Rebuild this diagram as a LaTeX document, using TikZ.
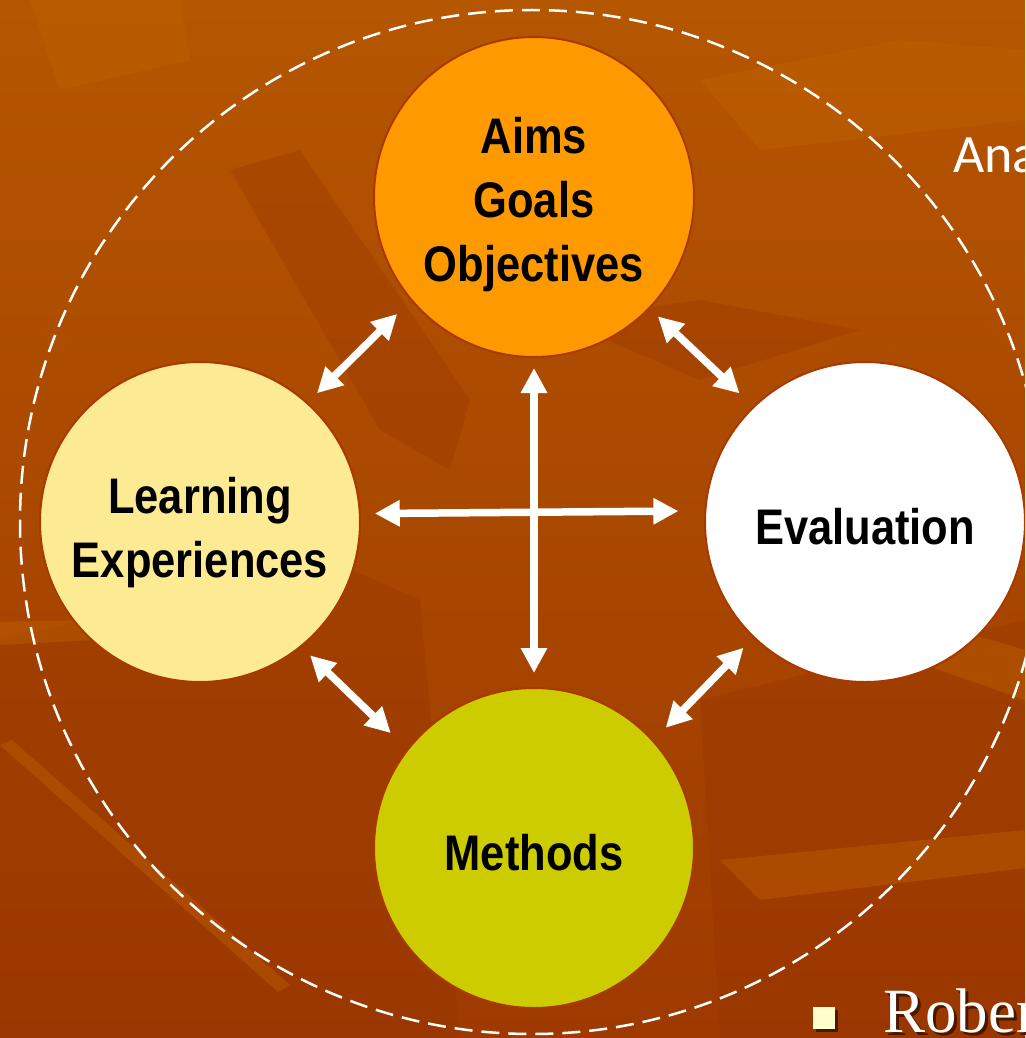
\documentclass[tikz,border=0pt]{standalone}
\usepackage{fontspec}
\usetikzlibrary{arrows.meta}
\newfontfamily\lblfont[FakeStretch=0.87]{Liberation Sans}
\newfontfamily\anafont{Carlito}
\newfontfamily\robfont{Liberation Serif}
\definecolor{bgtop}{HTML}{B55600}
\definecolor{bgbot}{HTML}{9E3A00}
\definecolor{dk}{HTML}{943200}
\definecolor{lt}{HTML}{C06400}
\definecolor{aimsc}{HTML}{FF9900}
\definecolor{learnc}{HTML}{FDEB94}
\definecolor{methc}{HTML}{CCCC00}
\definecolor{rimc}{HTML}{A83A00}
\definecolor{bulletc}{HTML}{FFFFCC}
\definecolor{shadowc}{HTML}{4A1800}
\begin{document}
\begin{tikzpicture}[x=1pt,y=-1pt,
  ball/.style={circle,draw=rimc,line width=2pt,minimum size=320pt,inner sep=0pt,outer sep=0pt},
  lbl/.style={font=\lblfont\bfseries\fontsize{50}{64}\selectfont,align=center,inner sep=0pt,text=black},
  warrow/.style={draw=white,line width=7.5pt,{Triangle[length=25pt,width=25pt]}-{Triangle[length=25pt,width=25pt]}},
  darkpatch/.style={fill=dk,opacity=0.3,draw=none},
  lightpatch/.style={fill=lt,opacity=0.4,draw=none}]
\path[use as bounding box] (0,0) rectangle (1025,1038);
\clip (0,0) rectangle (1025,1038);
% background
\shade[top color=bgtop,bottom color=bgbot] (0,0) rectangle (1025,1038);
\fill[darkpatch] (230,170) -- (300,150) -- (470,400) -- (450,470) -- (380,430) -- cycle;
\fill[darkpatch] (0,640) -- (330,560) -- (420,600) -- (460,1038) -- (0,1038) -- cycle;
\fill[darkpatch] (560,320) -- (700,300) -- (860,330) -- (700,380) -- cycle;
\fill[darkpatch] (700,700) -- (1025,620) -- (1025,1038) -- (720,1038) -- cycle;
\fill[lightpatch] (0,622) -- (90,620) -- (95,640) -- (0,645) -- cycle;
\fill[lightpatch] (0,745) -- (12,740) -- (290,985) -- (278,992) -- cycle;
\fill[lightpatch] (720,860) -- (1025,830) -- (1025,868) -- (760,900) -- cycle;
\fill[lightpatch] (700,80) -- (900,40) -- (1025,50) -- (1025,120) -- (760,150) -- cycle;
\fill[lightpatch] (30,0) -- (180,0) -- (190,60) -- (60,90) -- cycle;
\fill[lightpatch] (720,560) -- (1025,650) -- (1025,700) -- (740,600) -- cycle;
% dashed ring
\draw[white,line width=2.5pt,dash pattern=on 18pt off 9pt] (532,522) circle[radius=512];
% circles
\node[ball,fill=aimsc] (aims) at (534,197) {};
\node[ball,fill=learnc] (learn) at (200,522) {};
\node[ball,fill=white] (eval) at (865,522) {};
\node[ball,fill=methc] (meth) at (534,848) {};
% labels
\node[lbl,anchor=north] (aimsT) at (534,117) {Aims\\Goals\\Objectives};
\node[lbl,anchor=north] (learnT) at (200,477) {Learning\\Experiences};
\node[lbl,anchor=base] (evalT) at (865,544) {Evaluation};
\node[lbl,anchor=base] (methT) at (534,870) {Methods};
% arrows
\draw[warrow,shorten <=20pt,shorten >=14pt] (aims.220) -- (learn.48);
\draw[warrow,shorten <=12pt,shorten >=19.6pt] (aims.316.7) -- (eval.134.4);
\draw[warrow,shorten <=13pt,shorten >=23.7pt] (learn.309.9) -- (meth.142.1);
\draw[warrow,shorten <=18.4pt,shorten >=14.8pt] (meth.42) -- (eval.226.8);
\draw[warrow,shorten <=11pt,shorten >=15pt] (aims.south) -- (meth.north);
\draw[warrow,shorten <=15pt,shorten >=27pt] (learn.3.2) -- (eval.176.8);
% side texts
\node[anchor=base west,inner sep=0pt,text=white,font=\anafont\fontsize{54}{60}\selectfont] (ana) at (953,172) {Ana};
\fill[shadowc] (816,1010) rectangle (838,1032);
\node[fill=bulletc,minimum size=22pt,inner sep=0pt] (bul) at (824,1018) {};
\node[anchor=base west,inner sep=0pt,text=white,font=\robfont\fontsize{63}{70}\selectfont] (rob) at (883,1032) {\rlap{\kern3pt\raisebox{-3pt}{\color{shadowc}Rober}}Rober};
\end{tikzpicture}
\end{document}
